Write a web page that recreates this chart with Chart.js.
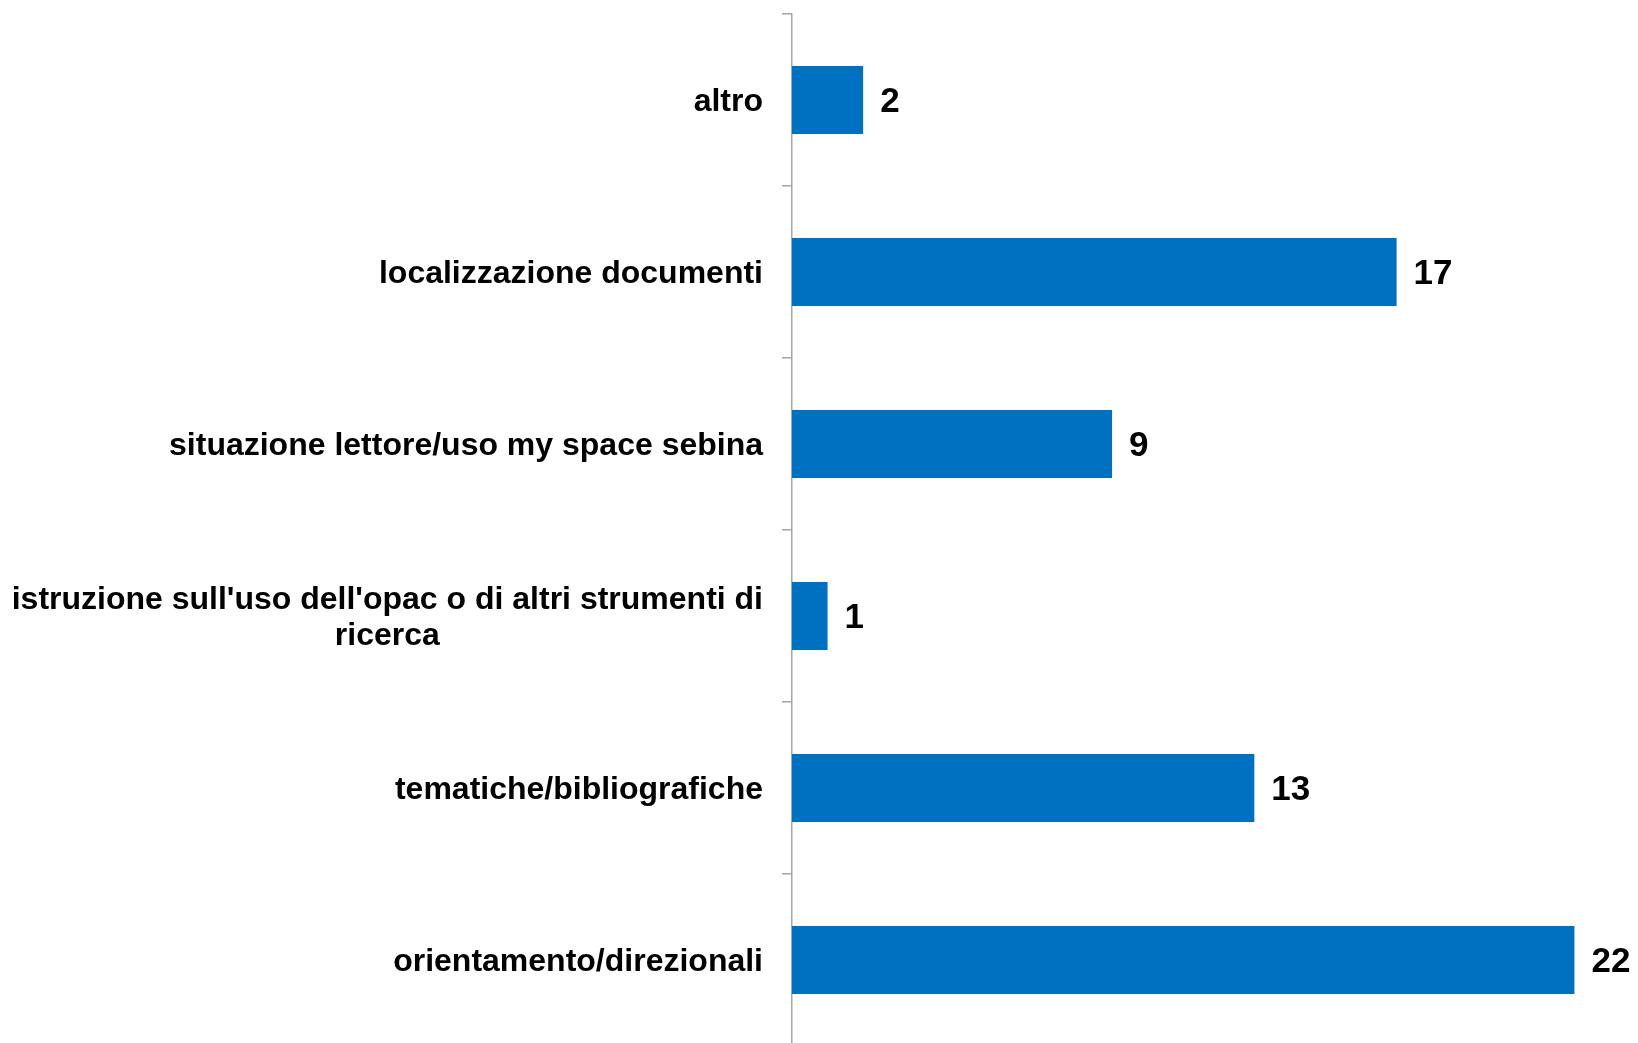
<!DOCTYPE html>
<html lang="it">
<head>
<meta charset="utf-8">
<title>Tipologia delle richieste</title>
<script src="https://cdn.jsdelivr.net/npm/chart.js@4.4.1/dist/chart.umd.min.js"></script>
<style>
    html, body { margin: 0; padding: 0; background: #fff; overflow: hidden; }
    #wrap { position: relative; width: 1638px; height: 1046px; }
</style>
</head>
<body>
<div id="wrap"><canvas id="richiesteChart"></canvas></div>
<script>
// categorie (dall'alto verso il basso) e numero di richieste
const categorie = [
    'altro',
    'localizzazione documenti',
    'situazione lettore/uso my space sebina',
    ["istruzione sull'uso dell'opac o di altri strumenti di", 'ricerca'],
    'tematiche/bibliografiche',
    'orientamento/direzionali'
];
const richieste = [2, 17, 9, 1, 13, 22];

const FONT = '"Liberation Sans", Arial, sans-serif';
const AXIS_GRAY = '#a6a6a6';

// etichette delle categorie: blocco allineato a destra, righe centrate fra loro
const etichetteCategorie = {
    id: 'etichetteCategorie',
    afterDraw(chart) {
        const ctx = chart.ctx;
        const yScale = chart.scales.y;
        const right = chart.chartArea.left - 29;
        const lineHeight = 35.5;
        ctx.save();
        ctx.font = 'bold 32px ' + FONT;
        ctx.fillStyle = '#000';
        ctx.textAlign = 'center';
        ctx.textBaseline = 'middle';
        categorie.forEach((label, i) => {
            const lines = Array.isArray(label) ? label : [label];
            const widest = Math.max(...lines.map(l => ctx.measureText(l).width));
            const cx = right - widest / 2;
            const cy = yScale.getPixelForValue(i) + 2;
            lines.forEach((line, j) => {
                ctx.fillText(line, cx, cy + lineHeight * (j - (lines.length - 1) / 2));
            });
        });
        ctx.restore();
    }
};

// valore a destra di ogni barra
const valoriBarre = {
    id: 'valoriBarre',
    afterDatasetsDraw(chart) {
        const ctx = chart.ctx;
        const meta = chart.getDatasetMeta(0);
        ctx.save();
        ctx.font = 'bold 35px ' + FONT;
        ctx.fillStyle = '#000';
        ctx.textAlign = 'left';
        ctx.textBaseline = 'middle';
        meta.data.forEach((bar, i) => {
            ctx.fillText(String(richieste[i]), bar.x + 17, bar.y + 2);
        });
        ctx.restore();
    }
};

new Chart(document.getElementById('richiesteChart'), {
    type: 'bar',
    data: {
        labels: categorie,
        datasets: [{
            data: richieste,
            backgroundColor: '#0070C0',
            borderWidth: 0,
            categoryPercentage: 1,
            barPercentage: 0.396
        }]
    },
    options: {
        indexAxis: 'y',
        responsive: true,
        maintainAspectRatio: false,
        animation: false,
        layout: { padding: { top: 14, right: 28, bottom: 0, left: 0 } },
        plugins: {
            legend: { display: false },
            tooltip: { enabled: false }
        },
        scales: {
            x: {
                display: false,
                min: 0,
                max: 23
            },
            y: {
                afterFit(scale) { scale.width = 792; },
                grid: {
                    offset: true,
                    drawOnChartArea: false,
                    drawTicks: true,
                    tickLength: 10,
                    color: AXIS_GRAY,
                    lineWidth: 1.5
                },
                border: { display: true, color: AXIS_GRAY, width: 1.5 },
                ticks: { display: false }
            }
        }
    },
    plugins: [etichetteCategorie, valoriBarre]
});
</script>
</body>
</html>
